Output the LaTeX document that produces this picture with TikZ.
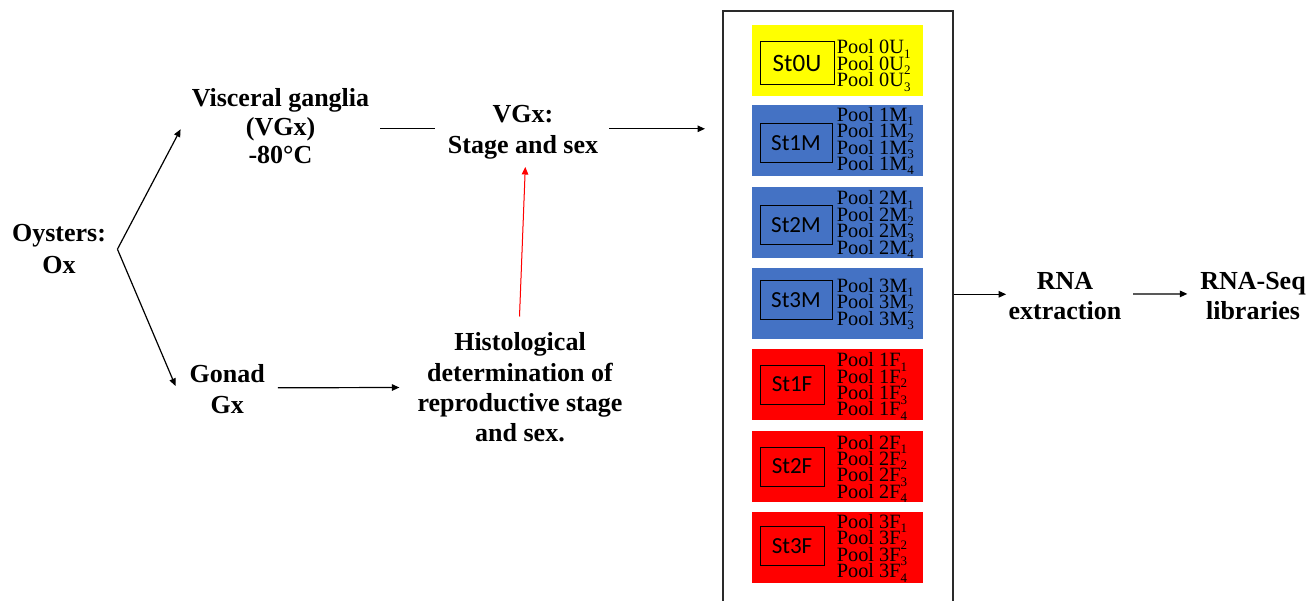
\documentclass[tikz,border=0pt]{standalone}
\usepackage{fontspec}
\setmainfont{Liberation Serif}
\newfontfamily\stfont{Carlito}
\usetikzlibrary{arrows.meta}
\definecolor{myyellow}{HTML}{FFFF00}
\definecolor{myblue}{HTML}{4472C4}
\definecolor{myred}{HTML}{FF0000}
\definecolor{framegray}{HTML}{2A2A2A}
\newcommand\poolsub[1]{\raisebox{-4.5pt}{\fontsize{13}{13}\selectfont #1}}
\begin{document}
\begin{tikzpicture}[x=1pt,y=-1pt,
  lbl/.style={font=\bfseries\fontsize{26}{31}\selectfont, align=center, inner sep=0pt},
  arr/.style={-{Triangle[length=7.5pt,width=6.5pt]}, line width=1.2pt},
  plainline/.style={line width=1.2pt},
  grp/.style={minimum width=171pt, minimum height=71pt, inner sep=0pt, draw=none},
  stbox/.style={draw=black, line width=1pt, inner sep=0pt},
  pooltxt/.style={anchor=base west, inner sep=0pt, text height=11.5pt, text depth=4.5pt, font=\fontsize{20.3}{20.3}\selectfont},
]
\useasboundingbox (0,0) rectangle (1316,601);
\fill[white] (0,0) rectangle (1316,601);

% left part
\node[lbl, font=\bfseries\fontsize{26}{32}\selectfont] (oys) at (59,249.2) {Oysters:\\Ox};
\node[lbl, font=\bfseries\fontsize{26}{28.2}\selectfont] (vg) at (280.5,126.3) {Visceral ganglia\\(VGx)\\-80°C};
\node[lbl] (gonad) at (227.3,388.8) {Gonad\\Gx};
\node[lbl] (vgs) at (523,131.8) {VGx:\\Stage and sex};
\node[lbl, font=\bfseries\fontsize{26}{30.4}\selectfont] (hist) at (520,387.5) {Histological\\determination of\\reproductive stage\\and sex.};
\node[lbl, font=\bfseries\fontsize{26}{30.7}\selectfont] (rna) at (1065,296) {RNA\\extraction};
\node[lbl, font=\bfseries\fontsize{26}{30.7}\selectfont] (seq) at (1253,295.9) {RNA-Seq\\libraries};

% frame (open at the bottom, cut by the page)
\node[draw=framegray, line width=2pt, minimum width=229.5pt, minimum height=609pt, inner sep=0pt] (frame) at (837.75,315.5) {};

% groups
\foreach \n/\lab/\col/\yc/\iw/\ih/\ix/\iy/\fb/\num/\fs in {
  0U/St0U/myyellow/60.5/74/43/797/63.5/54/3/25,
  1M/St1M/myblue/140.5/72/39/796/143.5/121.3/4/23,
  2M/St2M/myblue/222.5/72/39/796/225.5/205/4/23,
  3M/St3M/myblue/303.5/72/39/796/300.5/292.3/3/23,
  1F/St1F/myred/384.5/64/39/792/384.5/366.7/4/23,
  2F/St2F/myred/466.5/64/39/792/466.5/449/4/23,
  3F/St3F/myred/547.5/64/39/792/546/528.3/4/23}
{
  \node[grp, fill=\col] (b\n) at (837.5,\yc) {};
  \node[stbox, minimum width=\iw pt, minimum height=\ih pt, font=\stfont\fontsize{\fs}{\fs}\selectfont] (s\n) at (\ix,\iy) {\lab};
  \foreach \i in {1,...,\num}
    \node[pooltxt] (p\n-\i) at (836.7,{\fb+(\i-1)*16.4}) {Pool \n\poolsub{\i}};
}

% connectors
\coordinate (split) at ([xshift=11.3pt]oys.east);
\draw[arr] (split) -- ([xshift=-11pt,yshift=-3pt]vg.west);
\draw[arr] (split) -- ([xshift=-14pt,yshift=2.8pt]gonad.west);
\draw[plainline] ([xshift=10.7pt,yshift=-2pt]vg.east) -- ([xshift=-12.4pt,yshift=3.5pt]vgs.west);
\draw[arr] ([xshift=10.7pt,yshift=3pt]vgs.east) -- ([xshift=-17pt,yshift=3pt]vgs.east -| frame.west);
\draw[arr] ([xshift=12.7pt,yshift=1pt]gonad.east) -- ([xshift=-18pt]hist.west);
\draw[arr, draw=myred, fill=myred, line width=1pt] ([xshift=-0.5pt,yshift=16pt]hist.north) -- ([xshift=2.3pt,yshift=-8pt]vgs.south);
\draw[arr] ([yshift=1.7pt]frame.east |- rna.west) -- ([xshift=-2.4pt,yshift=1.7pt]rna.west);
\draw[arr] ([xshift=11.7pt,yshift=2pt]rna.east) -- ([xshift=-12.7pt,yshift=2pt]seq.west);
\end{tikzpicture}
\end{document}
